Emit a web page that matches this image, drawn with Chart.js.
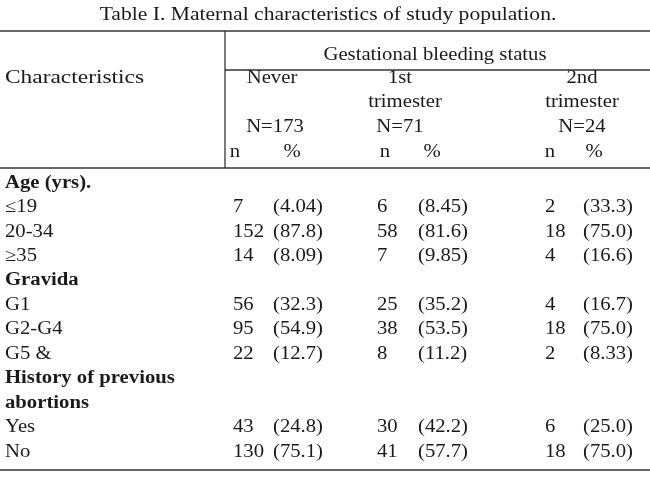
<!DOCTYPE html>
<html><head><meta charset="utf-8">
<script src="https://cdn.jsdelivr.net/npm/chart.js@4"></script>
<style>body{margin:0;background:#fff}#wrap{width:650px;height:485px}</style>
</head><body><div id="wrap"><canvas id="c" width="650" height="485"></canvas></div>
<script>
// rows of the table body
const rowLabels = ['Age (yrs).', '≤19', '20-34', '≥35', 'Gravida', 'G1', 'G2-G4', 'G5 &', 'History of previous', 'abortions', 'Yes', 'No'];
const boldRows = [0, 4, 8, 9];
// n and % for each bleeding group (null = section heading)
const neverN = [null, 7, 152, 14, null, 56, 95, 22, null, null, 43, 130];
const neverPct = [null, '4.04', '87.8', '8.09', null, '32.3', '54.9', '12.7', null, null, '24.8', '75.1'];
const firstN = [null, 6, 58, 7, null, 25, 38, 8, null, null, 30, 41];
const firstPct = [null, '8.45', '81.6', '9.85', null, '35.2', '53.5', '11.2', null, null, '42.2', '57.7'];
const secondN = [null, 2, 18, 4, null, 4, 18, 2, null, null, 6, 18];
const secondPct = [null, '33.3', '75.0', '16.6', null, '16.7', '75.0', '8.33', null, null, '25.0', '75.0'];
const groupTotals = ['N=173', 'N=71', 'N=24'];

const colX = [233, 273, 377, 418, 545, 583];
const cols = [neverN, neverPct, firstN, firstPct, secondN, secondPct];
const serif = '"Liberation Serif", "DejaVu Serif", serif';

const datasets = [{ data: rowLabels.map((l, i) => ({ x: 5, y: i, t: l, b: boldRows.includes(i) })) }];
cols.forEach((arr, c) => {
  datasets.push({
    data: arr.map((v, i) => v === null ? null : { x: colX[c], y: i, t: c % 2 ? '(' + v + ')' : String(v) }).filter(d => d)
  });
});
datasets.forEach(d => { d.pointRadius = 0; d.pointHoverRadius = 0; });

const tablePlugin = {
  id: 'table',
  afterDatasetsDraw(chart) {
    const ctx = chart.ctx;
    ctx.save();
    ctx.fillStyle = '#1a1a1a';
    ctx.strokeStyle = '#333';
    ctx.textBaseline = 'middle';
    const txt = (t, x, y, align, size, bold, sx) => {
      ctx.save();
      ctx.font = (bold ? 'bold ' : '') + (size || 18) + 'px ' + serif;
      ctx.textAlign = align || 'left';
      ctx.translate(x, y);
      ctx.scale(sx || 1.15, 1);
      ctx.fillText(t, 0, 0);
      ctx.restore();
    };
    // header
    txt('Table I. Maternal characteristics of study population.', 328, 15, 'center', 18, false, 1.2);
    txt('Gestational bleeding status', 435, 55, 'center');
    txt('Characteristics', 5, 78, 'left', 18, false, 1.3);
    txt('Never', 272, 78, 'center');
    txt('1st', 400, 78, 'center');
    txt('trimester', 405, 102, 'center');
    txt('2nd', 582, 78, 'center');
    txt('trimester', 582, 102, 'center');
    [275, 400, 582].forEach((x, i) => txt(groupTotals[i], x, 127, 'center'));
    [[235, 292], [385, 432], [550, 594]].forEach(p => { txt('n', p[0], 152, 'center'); txt('%', p[1], 152, 'center'); });
    ctx.lineWidth = 1.3;
    const line = (x1, y1, x2, y2) => { ctx.beginPath(); ctx.moveTo(x1, y1); ctx.lineTo(x2, y2); ctx.stroke(); };
    line(0, 31, 650, 31);
    line(225, 70, 650, 70);
    line(225, 31, 225, 168);
    line(0, 168, 650, 168);
    line(0, 470, 650, 470);
    // body cells from dataset elements
    chart.data.datasets.forEach((ds, di) => {
      chart.getDatasetMeta(di).data.forEach((el, i) => {
        const d = ds.data[i];
        txt(d.t, el.x, el.y, 'left', 18, d.b);
      });
    });
    ctx.restore();
  }
};

new Chart(document.getElementById('c'), {
  type: 'scatter',
  data: { datasets },
  options: {
    responsive: false, animation: false,
    layout: { padding: 0 },
    plugins: { legend: { display: false }, tooltip: { enabled: false } },
    scales: {
      x: { type: 'linear', min: 0, max: 650, display: false },
      y: { type: 'linear', reverse: true, min: -7.485, max: 12.35, display: false }
    }
  },
  plugins: [tablePlugin]
});
</script></body></html>
